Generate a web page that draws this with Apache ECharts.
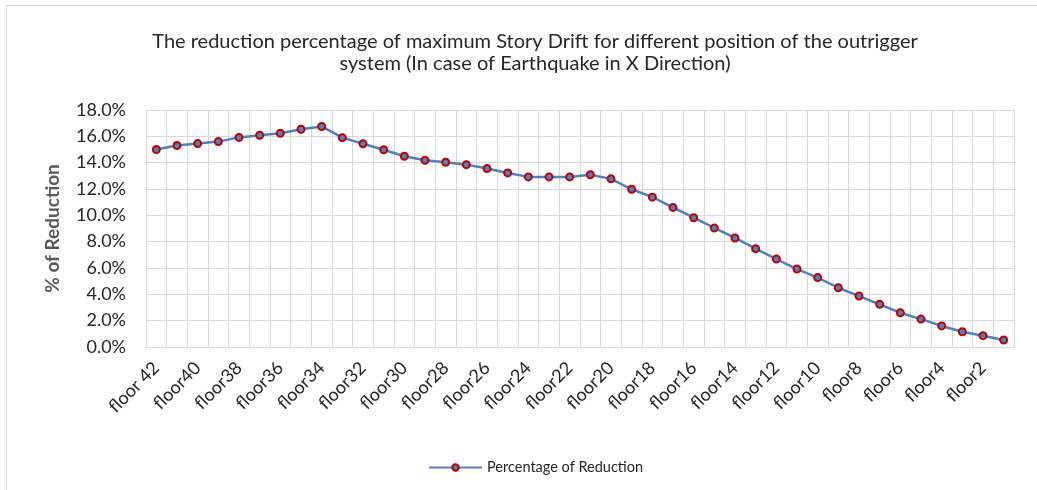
<!DOCTYPE html>
<html>
<head>
<meta charset="utf-8">
<script src="https://cdn.jsdelivr.net/npm/echarts@6/dist/echarts.min.js"></script>
<style>
    html, body { margin: 0; padding: 0; background: #fff; }
    #chart { width: 1037px; height: 490px; }
</style>
</head>
<body>
<div id="chart"></div>
<script>
// Floors from top (42) to bottom (1)
const floors = [];
for (let i = 42; i >= 1; i--) {
    floors.push(i === 42 ? 'floor 42' : 'floor' + i);
}

// % of reduction, one per floor
const reduction = [
    15.0, 15.3, 15.45, 15.6, 15.92, 16.08, 16.23, 16.54, 16.75,
    15.9, 15.44, 14.98, 14.49, 14.18, 14.03,
    13.85, 13.55, 13.22, 12.92, 12.92, 12.92, 13.08, 12.77,
    11.98, 11.38, 10.6, 9.82, 9.04,
    8.28, 7.47, 6.68, 5.92, 5.27, 4.5, 3.87, 3.24, 2.6, 2.12, 1.6, 1.16, 0.86, 0.53
];

const titleLines = [
    'The reduction percentage of maximum Story Drift for different position of the outrigger',
    'system (In case of Earthquake in X Direction)'
];
const seriesName = 'Percentage of Reduction';
const yAxisName = '% of Reduction';

const chart = echarts.init(document.getElementById('chart'));
const font = 'Lato';

chart.setOption({
    animation: false,
    textStyle: { fontFamily: font },
    graphic: [{
        type: 'rect',
        shape: { x: 6.5, y: 5.5, width: 1200, height: 1000 },
        style: { fill: 'none', stroke: '#d9d9d9', lineWidth: 1 },
        silent: true
    }],
    title: {
        text: titleLines.join('\n'),
        left: 530,
        top: 26,
        textAlign: 'center',
        textStyle: {
            fontFamily: font,
            fontSize: 20,
            fontWeight: 'normal',
            color: '#262626',
            lineHeight: 22
        }
    },
    legend: {
        data: [seriesName],
        left: 423,
        top: 455,
        itemWidth: 53,
        itemHeight: 8,
        textStyle: { fontFamily: font, fontSize: 14.5, color: '#262626' }
    },
    grid: { left: 146, right: 23, top: 110, bottom: 143, containLabel: false },
    xAxis: {
        type: 'category',
        data: floors,
        boundaryGap: true,
        axisLine: { lineStyle: { color: '#d9d9d9' } },
        axisTick: { show: false },
        splitLine: { show: true, interval: 0, lineStyle: { color: '#d9d9d9' } },
        axisLabel: {
            interval: 1,
            rotate: 45,
            margin: 18,
            fontFamily: font,
            fontSize: 18,
            color: '#262626'
        }
    },
    yAxis: {
        type: 'value',
        min: 0,
        max: 18,
        interval: 2,
        name: yAxisName,
        nameLocation: 'middle',
        nameGap: 84,
        nameTextStyle: { fontFamily: font, fontSize: 19, fontWeight: 'bold', color: '#595959' },
        axisLine: { show: false },
        axisTick: { show: false },
        splitLine: { lineStyle: { color: '#d9d9d9' } },
        axisLabel: {
            margin: 20,
            fontFamily: font,
            fontSize: 18,
            color: '#262626',
            formatter: v => v.toFixed(1) + '%'
        }
    },
    series: [{
        name: seriesName,
        type: 'line',
        data: reduction,
        symbol: 'circle',
        symbolSize: 7,
        lineStyle: { color: '#4f81bd', width: 2.5 },
        itemStyle: { color: '#4f81bd', borderColor: '#c00000', borderWidth: 2 }
    }]
});
</script>
</body>
</html>
